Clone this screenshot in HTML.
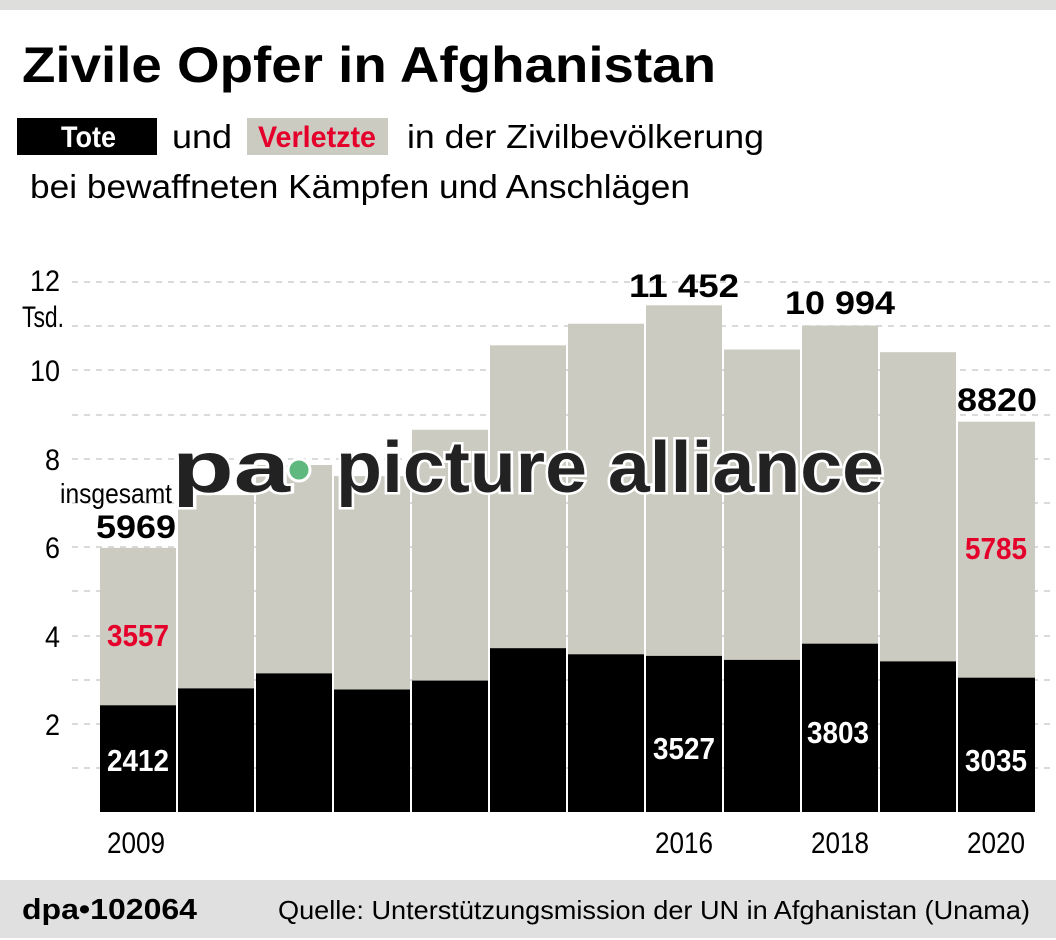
<!DOCTYPE html>
<html><head><meta charset="utf-8"><style>
html,body{margin:0;padding:0;background:#fff;}
svg{display:block;font-family:"Liberation Sans",sans-serif;}
</style></head><body>
<svg width="1056" height="940" viewBox="0 0 1056 940" xmlns="http://www.w3.org/2000/svg">
<rect x="0" y="0" width="1056" height="10" fill="#dededd"/>
<text x="22" y="82" font-size="50" font-weight="bold" textLength="694" lengthAdjust="spacingAndGlyphs">Zivile Opfer in Afghanistan</text>
<rect x="17" y="118" width="140" height="37" fill="#000"/>
<text x="61" y="147" font-size="30" font-weight="bold" fill="#fff" textLength="55" lengthAdjust="spacingAndGlyphs">Tote</text>
<text x="172" y="148" font-size="33" textLength="60" lengthAdjust="spacingAndGlyphs">und</text>
<rect x="247" y="118" width="141" height="37" fill="#cccbc1"/>
<text x="258" y="147" font-size="30" font-weight="bold" fill="#e4002b" textLength="118" lengthAdjust="spacingAndGlyphs">Verletzte</text>
<text x="407" y="148" font-size="33" textLength="357" lengthAdjust="spacingAndGlyphs">in der Zivilbevölkerung</text>
<text x="30" y="198" font-size="33" textLength="660" lengthAdjust="spacingAndGlyphs">bei bewaffneten Kämpfen und Anschlägen</text>
<g stroke="#cfcfcf" stroke-width="1.5" stroke-dasharray="6,6">
<line x1="72" y1="282" x2="1056" y2="282"/><line x1="72" y1="326" x2="1056" y2="326"/>
<line x1="72" y1="370" x2="1056" y2="370"/><line x1="72" y1="415" x2="1056" y2="415"/>
<line x1="72" y1="459" x2="1056" y2="459"/><line x1="72" y1="503" x2="1056" y2="503"/>
<line x1="72" y1="547" x2="1056" y2="547"/><line x1="72" y1="591" x2="1056" y2="591"/>
<line x1="72" y1="636" x2="1056" y2="636"/><line x1="72" y1="680" x2="1056" y2="680"/>
<line x1="72" y1="724" x2="1056" y2="724"/><line x1="72" y1="768" x2="1056" y2="768"/>
</g>
<g font-size="30" text-anchor="end">
<text x="60" y="291" textLength="30" lengthAdjust="spacingAndGlyphs">12</text>
<text x="64" y="327" textLength="42" lengthAdjust="spacingAndGlyphs">Tsd.</text>
<text x="60" y="381" textLength="30" lengthAdjust="spacingAndGlyphs">10</text>
<text x="60" y="470" textLength="15" lengthAdjust="spacingAndGlyphs">8</text>
<text x="60" y="558" textLength="15" lengthAdjust="spacingAndGlyphs">6</text>
<text x="60" y="647" textLength="15" lengthAdjust="spacingAndGlyphs">4</text>
<text x="60" y="735" textLength="15" lengthAdjust="spacingAndGlyphs">2</text>
</g>
<g id="bars">
<rect x="100" y="547.9" width="76" height="264.1" fill="#cccbc1"/><rect x="100" y="705.3" width="76" height="106.7" fill="#000"/>
<rect x="178" y="495.1" width="76" height="316.9" fill="#cccbc1"/><rect x="178" y="688.4" width="76" height="123.6" fill="#000"/>
<rect x="256" y="465.0" width="76" height="347.0" fill="#cccbc1"/><rect x="256" y="673.4" width="76" height="138.6" fill="#000"/>
<rect x="334" y="476.1" width="76" height="335.9" fill="#cccbc1"/><rect x="334" y="689.5" width="76" height="122.5" fill="#000"/>
<rect x="412" y="429.8" width="76" height="382.2" fill="#cccbc1"/><rect x="412" y="680.6" width="76" height="131.4" fill="#000"/>
<rect x="490" y="345.3" width="76" height="466.7" fill="#cccbc1"/><rect x="490" y="648.2" width="76" height="163.8" fill="#000"/>
<rect x="568" y="323.7" width="76" height="488.3" fill="#cccbc1"/><rect x="568" y="654.3" width="76" height="157.7" fill="#000"/>
<rect x="646" y="305.3" width="76" height="506.7" fill="#cccbc1"/><rect x="646" y="655.9" width="76" height="156.1" fill="#000"/>
<rect x="724" y="349.5" width="76" height="462.5" fill="#cccbc1"/><rect x="724" y="659.9" width="76" height="152.1" fill="#000"/>
<rect x="802" y="325.5" width="76" height="486.5" fill="#cccbc1"/><rect x="802" y="643.7" width="76" height="168.3" fill="#000"/>
<rect x="880" y="352.2" width="76" height="459.8" fill="#cccbc1"/><rect x="880" y="661.4" width="76" height="150.6" fill="#000"/>
<rect x="958" y="421.7" width="77" height="390.3" fill="#cccbc1"/><rect x="958" y="677.7" width="77" height="134.3" fill="#000"/>
</g>
<text x="60" y="503" font-size="28" textLength="112" lengthAdjust="spacingAndGlyphs">insgesamt</text>
<g font-weight="bold" font-size="32" text-anchor="middle">
<text x="136" y="538" textLength="80" lengthAdjust="spacingAndGlyphs">5969</text>
<text x="684" y="297" textLength="110" lengthAdjust="spacingAndGlyphs">11 452</text>
<text x="840" y="314" textLength="110" lengthAdjust="spacingAndGlyphs">10 994</text>
<text x="997" y="411" textLength="80" lengthAdjust="spacingAndGlyphs">8820</text>
</g>
<g font-weight="bold" font-size="31" text-anchor="middle">
<text x="138" y="646" fill="#e4002b" textLength="62" lengthAdjust="spacingAndGlyphs">3557</text>
<text x="996" y="559" fill="#e4002b" textLength="62" lengthAdjust="spacingAndGlyphs">5785</text>
<text x="138" y="771" fill="#fff" textLength="62" lengthAdjust="spacingAndGlyphs">2412</text>
<text x="684" y="759" fill="#fff" textLength="62" lengthAdjust="spacingAndGlyphs">3527</text>
<text x="838" y="743" fill="#fff" textLength="62" lengthAdjust="spacingAndGlyphs">3803</text>
<text x="996" y="771" fill="#fff" textLength="62" lengthAdjust="spacingAndGlyphs">3035</text>
</g>
<g font-size="30" text-anchor="middle">
<text x="136" y="853" textLength="58" lengthAdjust="spacingAndGlyphs">2009</text>
<text x="684" y="853" textLength="58" lengthAdjust="spacingAndGlyphs">2016</text>
<text x="840" y="853" textLength="58" lengthAdjust="spacingAndGlyphs">2018</text>
<text x="996" y="853" textLength="58" lengthAdjust="spacingAndGlyphs">2020</text>
</g>
<g font-weight="bold" font-size="72" fill="#222" stroke="#fff" stroke-width="5" paint-order="stroke">
<text x="172" y="492" textLength="118" lengthAdjust="spacingAndGlyphs">pa</text>
<text x="336" y="492" textLength="548" lengthAdjust="spacingAndGlyphs">picture alliance</text>
</g>
<circle cx="299" cy="470" r="11" fill="#5fb87d" stroke="#fff" stroke-width="3"/>
<rect x="0" y="880" width="1056" height="58" fill="#e0e0e0"/>
<text x="22" y="919" font-size="29" font-weight="bold" textLength="175" lengthAdjust="spacingAndGlyphs">dpa•102064</text>
<text x="278" y="919" font-size="26" textLength="752" lengthAdjust="spacingAndGlyphs">Quelle: Unterstützungsmission der UN in Afghanistan (Unama)</text>
</svg>
</body></html>
